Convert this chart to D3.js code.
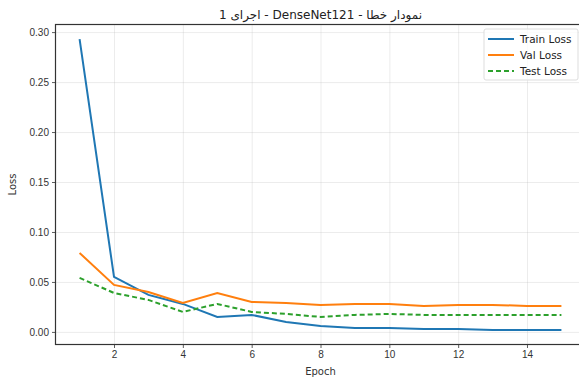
<!DOCTYPE html>
<html>
<head>
<meta charset="utf-8">
<script src="https://cdn.jsdelivr.net/npm/d3@7"></script>
<style>
  body { margin: 0; background: #fff; }
  svg { display: block; font-family: "DejaVu Sans", sans-serif; }
  .grid line { stroke: #b0b0b0; stroke-opacity: 0.3; stroke-width: 0.8; }
  .grid path { display: none; }
  .axis text { font-size: 10px; fill: #333; }
  .axis line { stroke: #333; stroke-width: 0.8; }
  .axis path { display: none; }
</style>
</head>
<body>
<div class="result"></div>
<script>
// Width and height
const w = 579;
const h = 379;

// Data
const epochs = [1, 2, 3, 4, 5, 6, 7, 8, 9, 10, 11, 12, 13, 14, 15];
const trainLoss = [0.293, 0.055, 0.037, 0.028, 0.015, 0.017, 0.010, 0.006, 0.004, 0.004, 0.003, 0.003, 0.002, 0.002, 0.002];
const valLoss = [0.079, 0.047, 0.040, 0.029, 0.039, 0.030, 0.029, 0.027, 0.028, 0.028, 0.026, 0.027, 0.027, 0.026, 0.026];
const testLoss = [0.054, 0.039, 0.032, 0.020, 0.028, 0.020, 0.018, 0.015, 0.017, 0.018, 0.017, 0.017, 0.017, 0.017, 0.017];
const xTicks = [2, 4, 6, 8, 10, 12, 14];
const yTicks = [0.00, 0.05, 0.10, 0.15, 0.20, 0.25, 0.30];

const series = [
  { name: 'Train Loss', values: trainLoss, color: '#1f77b4', dash: null },
  { name: 'Val Loss', values: valLoss, color: '#ff7f0e', dash: null },
  { name: 'Test Loss', values: testLoss, color: '#2ca02c', dash: '5,3' }
];

// Axes box (right spine falls just outside the picture)
const boxLeft = 55.5, boxRight = 585.5, boxTop = 24.5, boxBottom = 344.5;

const xScale = d3.scaleLinear().domain([0.3, 15.7]).range([boxLeft, boxRight]);
const yScale = d3.scaleLinear().domain([-0.0126, 0.3076]).range([boxBottom, boxTop]);

const svg = d3.select('.result')
  .append('svg')
  .attr('width', w)
  .attr('height', h);

// Grid
svg.append('g')
  .attr('class', 'grid')
  .attr('transform', 'translate(0,' + boxBottom + ')')
  .call(d3.axisBottom(xScale).tickValues(xTicks).tickSize(-(boxBottom - boxTop)).tickFormat(''));
svg.append('g')
  .attr('class', 'grid')
  .attr('transform', 'translate(' + boxLeft + ',0)')
  .call(d3.axisLeft(yScale).tickValues(yTicks).tickSize(-(boxRight - boxLeft)).tickFormat(''));

// Lines
const line = d3.line()
  .x(function (d, i) { return xScale(epochs[i]); })
  .y(function (d) { return yScale(d); });

series.forEach(function (s) {
  svg.append('path')
    .datum(s.values)
    .attr('fill', 'none')
    .attr('stroke', s.color)
    .attr('stroke-width', 2)
    .attr('stroke-dasharray', s.dash)
    .attr('d', line);
});

// Axes
svg.append('g')
  .attr('class', 'axis')
  .attr('transform', 'translate(0,' + boxBottom + ')')
  .call(d3.axisBottom(xScale).tickValues(xTicks).tickSize(3.5).tickPadding(3).tickFormat(d3.format('d')));
svg.append('g')
  .attr('class', 'axis')
  .attr('transform', 'translate(' + boxLeft + ',0)')
  .call(d3.axisLeft(yScale).tickValues(yTicks).tickSize(3.5).tickPadding(3).tickFormat(d3.format('.2f')));

// Spines
svg.append('rect')
  .attr('x', boxLeft)
  .attr('y', boxTop)
  .attr('width', boxRight - boxLeft)
  .attr('height', boxBottom - boxTop)
  .attr('fill', 'none')
  .attr('stroke', '#333')
  .attr('stroke-width', 1.2);

// Labels
svg.append('text')
  .attr('x', (boxLeft + boxRight) / 2)
  .attr('y', 19)
  .attr('text-anchor', 'middle')
  .attr('direction', 'rtl')
  .style('font-size', '12px')
  .style('fill', '#222')
  .text('نمودار خطا - DenseNet121 - اجرای 1');

svg.append('text')
  .attr('x', (boxLeft + boxRight) / 2)
  .attr('y', 375)
  .attr('text-anchor', 'middle')
  .style('font-size', '10px')
  .style('fill', '#333')
  .text('Epoch');

svg.append('text')
  .attr('transform', 'translate(16,' + ((boxTop + boxBottom) / 2) + ') rotate(-90)')
  .attr('text-anchor', 'middle')
  .style('font-size', '10px')
  .style('fill', '#333')
  .text('Loss');

// Legend
const legend = svg.append('g').attr('transform', 'translate(484,29)');
legend.append('rect')
  .attr('width', 94)
  .attr('height', 51)
  .attr('rx', 2)
  .attr('fill', '#fff')
  .attr('fill-opacity', 0.8)
  .attr('stroke', '#ddd');
series.forEach(function (s, i) {
  const y = 10 + i * 16;
  legend.append('line')
    .attr('x1', 4).attr('x2', 30)
    .attr('y1', y).attr('y2', y)
    .attr('stroke', s.color)
    .attr('stroke-width', 2)
    .attr('stroke-dasharray', s.dash);
  legend.append('text')
    .attr('x', 36)
    .attr('y', y + 3.5)
    .style('font-size', '10.5px')
    .style('fill', '#222')
    .text(s.name);
});
</script>
</body>
</html>
